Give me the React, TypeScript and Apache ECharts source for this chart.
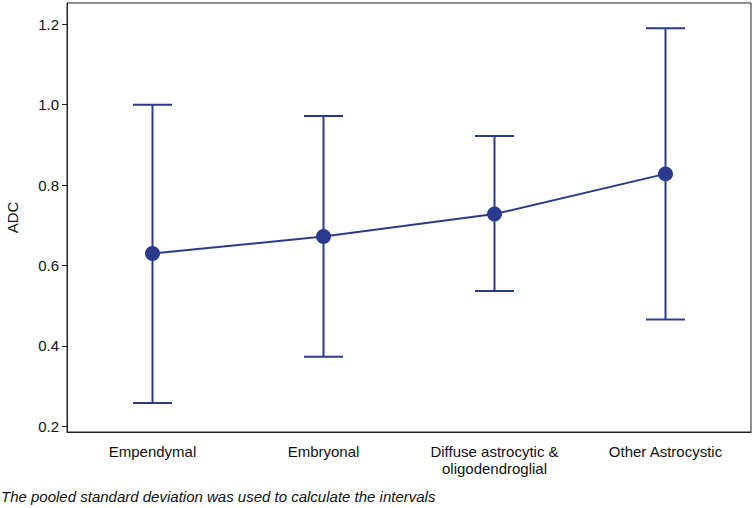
import React, { useEffect, useRef } from "react";
import * as echarts from "echarts";

const categories = ["Empendymal", "Embryonal", "Diffuse astrocytic &\noligodendroglial", "Other Astrocystic"];
const means = [0.63, 0.672, 0.728, 0.828];
const lower = [0.258, 0.373, 0.537, 0.466];
const upper = [1.0, 0.972, 0.922, 1.19];
const yTicks = [0.2, 0.4, 0.6, 0.8, 1.0, 1.2];
const yTitle = "ADC";
const footnote = "The pooled standard deviation was used to calculate the intervals";

const COLOR = "#2a3b8f";
const FONT = "'Liberation Sans', Arial, sans-serif";

export default function App() {
  const ref = useRef<HTMLDivElement>(null);
  useEffect(() => {
    const chart = echarts.init(ref.current!, null, { renderer: "svg" });
    const errData = categories.map((_, i) => [i, lower[i], upper[i]]);
    chart.setOption({
      animation: false,
      textStyle: { fontFamily: FONT },
      grid: {
        left: 67,
        right: 3,
        top: 3,
        bottom: 76,
        outerBoundsMode: "none",
        containLabel: false,
        show: true,
        borderColor: "#222",
        borderWidth: 1,
        backgroundColor: "#fff",
      },
      xAxis: {
        type: "category",
        data: categories,
        boundaryGap: true,
        axisLine: { lineStyle: { color: "#222", width: 1 } },
        axisTick: { alignWithLabel: true, length: 5, lineStyle: { color: "#222" } },
        axisLabel: {
          color: "#111",
          fontSize: 15,
          fontFamily: FONT,
          margin: 11,
          lineHeight: 17,
          interval: 0,
        },
        splitLine: { show: false },
      },
      yAxis: {
        type: "value",
        min: 0.186,
        max: 1.253,
        name: yTitle,
        nameLocation: "middle",
        nameGap: 47,
        nameTextStyle: { color: "#111", fontSize: 15, fontFamily: FONT },
        axisLine: { show: true, lineStyle: { color: "#222", width: 1 } },
        axisTick: { show: true, length: 5, customValues: yTicks, lineStyle: { color: "#222" } },
        axisLabel: {
          color: "#111",
          fontSize: 15,
          fontFamily: FONT,
          margin: 8,
          customValues: yTicks,
          formatter: (v: number) => v.toFixed(1),
        },
        splitLine: { show: false },
      },
      graphic: [
        {
          type: "text",
          left: 1,
          top: 489,
          style: {
            text: footnote,
            font: `italic 15px ${FONT}`,
            fill: "#111",
          },
        },
      ],
      series: [
        {
          type: "custom",
          data: errData,
          z: 2,
          renderItem: (params: any, api: any) => {
            const x = api.value(0);
            const lo = api.coord([x, api.value(1)]);
            const hi = api.coord([x, api.value(2)]);
            const hw = 19.5;
            const style = { stroke: COLOR, lineWidth: 2, fill: "none" };
            return {
              type: "group",
              children: [
                { type: "line", shape: { x1: lo[0], y1: lo[1], x2: hi[0], y2: hi[1] }, style },
                { type: "line", shape: { x1: hi[0] - hw, y1: hi[1], x2: hi[0] + hw, y2: hi[1] }, style },
                { type: "line", shape: { x1: lo[0] - hw, y1: lo[1], x2: lo[0] + hw, y2: lo[1] }, style },
              ],
            };
          },
        },
        {
          type: "line",
          data: means,
          z: 3,
          symbol: "circle",
          symbolSize: 15,
          lineStyle: { color: COLOR, width: 2 },
          itemStyle: { color: COLOR },
        },
      ],
    });
    return () => chart.dispose();
  }, []);
  return <div ref={ref} style={{ width: 754, height: 508, position: "absolute", left: 0, top: 0 }} />;
}
